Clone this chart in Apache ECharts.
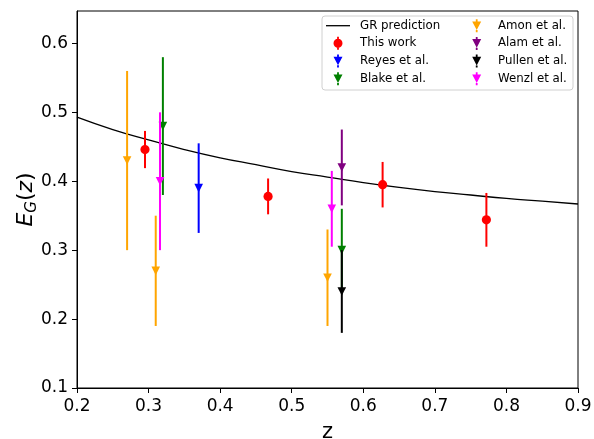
<!DOCTYPE html>
<html><head><meta charset="utf-8">
<script src="https://cdn.jsdelivr.net/npm/echarts@6/dist/echarts.min.js"></script>
<style>html,body{margin:0;padding:0;background:#fff}#c{width:594px;height:439px}</style>
</head><body><div id="c"></div>
<script>
// GR prediction curve
const grZ = [0.20,0.25,0.30,0.35,0.40,0.45,0.50,0.55,0.60,0.65,0.70,0.75,0.80,0.85,0.90];
const grEG = [0.493,0.475,0.460,0.446,0.434,0.424,0.414,0.406,0.398,0.391,0.385,0.380,0.375,0.371,0.367];

const thisWorkZ = [0.295,0.467,0.627,0.772];
const thisWorkY = [0.446,0.378,0.395,0.344];
const thisWorkErr = [0.027,0.026,0.033,0.039];

const reyesZ = [0.37]; const reyesY = [0.39]; const reyesErr = [0.065];
const blakeZ = [0.32,0.57]; const blakeY = [0.48,0.30]; const blakeErr = [0.10,0.06];
const amonZ = [0.27,0.31,0.55]; const amonY = [0.43,0.27,0.26]; const amonErr = [0.13,0.08,0.07];
const alamZ = [0.57]; const alamY = [0.42]; const alamErr = [0.055];
const pullenZ = [0.57]; const pullenY = [0.24]; const pullenErr = [0.06];
const wenzlZ = [0.316,0.556]; const wenzlY = [0.40,0.36]; const wenzlErr = [0.10,0.055];

const xTicks = [0.2,0.3,0.4,0.5,0.6,0.7,0.8,0.9];
const yTicks = [0.1,0.2,0.3,0.4,0.5,0.6];

const FONT = 'DejaVu Sans';
const triIcon = 'path://M3.6 0 H5.4 V2.2 H3.6 Z M0 2.2 H9 L4.5 10.8 Z M3.6 10.8 H5.4 V13 H3.6 Z';
const cirIcon = 'path://M3.6 0 H5.4 V2.3 H3.6 Z M0 6.5 A4.5 4.5 0 1 1 9 6.5 A4.5 4.5 0 1 1 0 6.5 Z M3.6 10.7 H5.4 V13 H3.6 Z';

function mk(z, y, e) { return z.map((v, i) => [v, y[i], e[i]]); }

function errSeries(name, color, z, y, e, marker) {
  return {
    type: 'custom', name: name, z: 3,
    itemStyle: { color: color },
    encode: { x: 0, y: 1 },
    data: mk(z, y, e),
    renderItem: function (params, api) {
      const x = api.value(0), yv = api.value(1), er = api.value(2);
      const p = api.coord([x, yv]);
      const pt = api.coord([x, yv + er]);
      const pb = api.coord([x, yv - er]);
      const children = [{
        type: 'line',
        shape: { x1: pt[0], y1: pt[1], x2: pb[0], y2: pb[1] },
        style: { stroke: color, lineWidth: 2 }
      }];
      if (marker === 'circle') {
        children.push({ type: 'circle', shape: { cx: p[0], cy: p[1], r: 4.6 }, style: { fill: color } });
      } else {
        const h = 4.3;
        children.push({ type: 'polygon', shape: { points: [[p[0]-h, p[1]-h], [p[0]+h, p[1]-h], [p[0], p[1]+h]] }, style: { fill: color } });
      }
      return { type: 'group', children: children };
    }
  };
}

function lt(padLeft) {
  return { fontFamily: FONT, fontSize: 11.8, color: '#000', lineHeight: 13, padding: [0, 0, 0, padLeft] };
}

const chart = echarts.init(document.getElementById('c'), null, { renderer: 'canvas' });
chart.setOption({
  animation: false,
  backgroundColor: '#fff',
  grid: { left: 77, right: 16, top: 11, bottom: 51, show: true, borderColor: '#000', borderWidth: 1,
    containLabel: false, outerBoundsMode: 'none' },
  xAxis: {
    type: 'value', min: 0.2, max: 0.9, interval: 0.1,
    name: 'z', nameLocation: 'middle', nameGap: 34,
    nameTextStyle: { fontFamily: FONT, fontSize: 21, color: '#000' },
    axisLine: { lineStyle: { color: '#000', width: 1 } },
    axisTick: { length: 5, lineStyle: { color: '#000' } },
    axisLabel: { fontFamily: FONT, fontSize: 17, color: '#000', margin: 10,
      formatter: v => v.toFixed(1) },
    splitLine: { show: false }
  },
  yAxis: {
    type: 'value', min: 0.1, max: 0.647,
    name: '{i|E}{s|G}{p|(}{i|z}{p|)}', nameLocation: 'middle', nameGap: 37, nameRotate: 90,
    nameMoveOverlap: false,
    nameTextStyle: {
      fontFamily: FONT, color: '#000',
      rich: {
        i: { fontFamily: FONT, fontSize: 22, fontStyle: 'italic', lineHeight: 28, verticalAlign: 'middle', color: '#000' },
        s: { fontFamily: FONT, fontSize: 15, fontStyle: 'italic', lineHeight: 15, verticalAlign: 'bottom', color: '#000' },
        p: { fontFamily: FONT, fontSize: 22, lineHeight: 28, verticalAlign: 'middle', color: '#000' }
      }
    },
    axisLine: { show: true, lineStyle: { color: '#000', width: 1 } },
    axisTick: { show: true, length: 5, lineStyle: { color: '#000' }, customValues: yTicks },
    axisLabel: { fontFamily: FONT, fontSize: 17, color: '#000', margin: 9,
      customValues: yTicks, formatter: v => v.toFixed(1) },
    splitLine: { show: false }
  },
  graphic: [{
    type: 'rect', z: 15, shape: { x: 322, y: 16, width: 251, height: 74, r: 3 },
    style: { fill: 'rgba(255,255,255,0.85)', stroke: '#d0d0d0', lineWidth: 1 }
  }],
  legend: [
    { z: 20, left: 326, top: 19.2, padding: 0, orient: 'vertical', itemWidth: 24, itemHeight: 13,
      textStyle: lt(5), selectedMode: false,
      data: [{ name: 'GR prediction', icon: 'path://M0 0 H24 V1.3 H0 Z', itemStyle: { color: '#000' } }] },
    { z: 20, left: 333.5, top: 36.8, padding: 0, orient: 'vertical', itemWidth: 9, itemHeight: 13, itemGap: 4.7,
      textStyle: lt(12.5), selectedMode: false,
      data: [
        { name: 'This work', icon: cirIcon, itemStyle: { color: '#ff0000' } },
        { name: 'Reyes et al.', icon: triIcon, itemStyle: { color: '#0000ff' } },
        { name: 'Blake et al.', icon: triIcon, itemStyle: { color: '#008000' } }
      ] },
    { z: 20, left: 472.2, top: 19.2, padding: 0, orient: 'vertical', itemWidth: 9, itemHeight: 13, itemGap: 4.7,
      textStyle: lt(11.8), selectedMode: false,
      data: [
        { name: 'Amon et al.', icon: triIcon, itemStyle: { color: '#ffa500' } },
        { name: 'Alam et al.', icon: triIcon, itemStyle: { color: '#800080' } },
        { name: 'Pullen et al.', icon: triIcon, itemStyle: { color: '#000000' } },
        { name: 'Wenzl et al.', icon: triIcon, itemStyle: { color: '#ff00ff' } }
      ] }
  ],
  series: [
    { type: 'line', name: 'GR prediction', smooth: true, showSymbol: false, symbol: 'none', z: 2,
      lineStyle: { color: '#000', width: 1.3 }, itemStyle: { color: '#000' },
      data: grZ.map((v, i) => [v, grEG[i]]) },
    errSeries('This work', '#ff0000', thisWorkZ, thisWorkY, thisWorkErr, 'circle'),
    errSeries('Reyes et al.', '#0000ff', reyesZ, reyesY, reyesErr, 'tri'),
    errSeries('Blake et al.', '#008000', blakeZ, blakeY, blakeErr, 'tri'),
    errSeries('Amon et al.', '#ffa500', amonZ, amonY, amonErr, 'tri'),
    errSeries('Alam et al.', '#800080', alamZ, alamY, alamErr, 'tri'),
    errSeries('Pullen et al.', '#000000', pullenZ, pullenY, pullenErr, 'tri'),
    errSeries('Wenzl et al.', '#ff00ff', wenzlZ, wenzlY, wenzlErr, 'tri')
  ]
});
</script>
</body></html>
